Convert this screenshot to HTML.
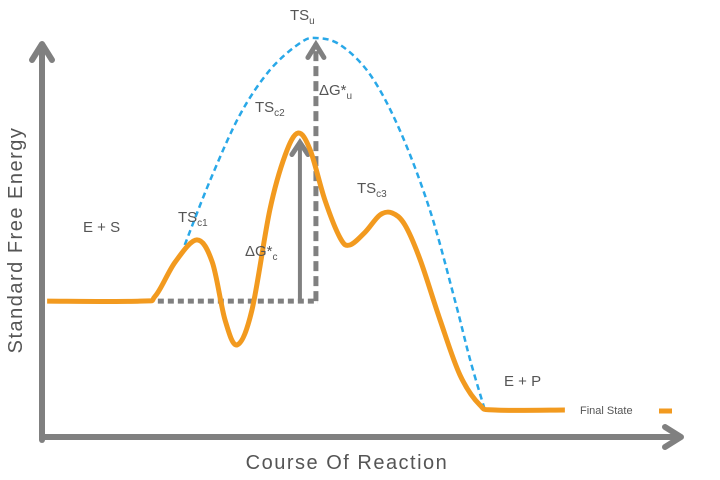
<!DOCTYPE html>
<html><head><meta charset="utf-8"><style>
body{margin:0;background:#fff}
svg{display:block}
text{font-family:"Liberation Sans",sans-serif;fill:#555}
</style></head><body>
<svg id="chart" width="720" height="480" viewBox="0 0 720 480">
<g id="marks"></g>
<g stroke="#808080" stroke-width="6" fill="none" stroke-linecap="round" stroke-linejoin="round">
  <line x1="42" y1="440" x2="42" y2="45"/>
  <polyline points="32,60 42,44 52,60"/>
  <line x1="42" y1="437" x2="680" y2="437"/>
  <polyline points="665,427 681,437 665,447"/>
</g>
<text transform="translate(22,240) rotate(-90)" text-anchor="middle" font-size="20" letter-spacing="1.5">Standard Free Energy</text>
<text x="347" y="469" text-anchor="middle" font-size="20" letter-spacing="1.5">Course Of Reaction</text>
<text x="290" y="20" font-size="15">TS<tspan font-size="10" dy="4">u</tspan></text>
<text x="255" y="112" font-size="15">TS<tspan font-size="10" dy="4">c2</tspan></text>
<text x="319" y="95" font-size="15">ΔG*<tspan font-size="10" dy="4">u</tspan></text>
<text x="178" y="222" font-size="15">TS<tspan font-size="10" dy="4">c1</tspan></text>
<text x="245" y="256" font-size="15">ΔG*<tspan font-size="10" dy="4">c</tspan></text>
<text x="357" y="193" font-size="15">TS<tspan font-size="10" dy="4">c3</tspan></text>
<text x="83" y="232" font-size="15">E + S</text>
<text x="504" y="386" font-size="15">E + P</text>
<text x="580" y="414" font-size="11">Final State</text>
<line x1="659" y1="411" x2="672" y2="411" stroke="#F29A1F" stroke-width="5"/>
</svg>
<script>
// reaction coordinate (0-100) and free energy (arbitrary units)
const catalyzedX = [0.8,15.3,17.7,20.8,24.2,26.6,28.6,30.5,32.8,35.6,38.0,40.0,41.9,44.2,46.6,48.1,50.5,52.8,54.7,56.7,59.1,62.2,65.3,68.4,70.8,81.7];
const catalyzedY = [45.3,45.3,47,58.3,65.7,58.3,39,30.7,42.3,75.7,94,101.3,95.7,79,66.3,64,68.3,74,74.7,70.7,59,39,20.7,10.7,9,9];
const uncatX = [22.3,26.3,30.9,35.6,40.3,42.8,46.6,51.3,55.9,60.6,64.5,66.9,69.2];
const uncatY = [64,85.7,107.3,122.3,131.3,133,130.7,120.7,102.3,75.7,45.7,25.7,9];
const baseEnergy = 45.3;
const tsC2Energy = 99.5;
const tsUEnergy = 132.5;
const dgCx = 40.3, dgUx = 42.8, baseStartX = 18.1;

const sx = v => 42 + v * 6.4;
const sy = v => 437 - v * 3;

function smooth(xs, ys) {
  const p = xs.map((x, i) => [sx(x), sy(ys[i])]);
  let d = `M${p[0][0]},${p[0][1]}`;
  for (let i = 0; i < p.length - 1; i++) {
    const p0 = p[i - 1] || p[i], p1 = p[i], p2 = p[i + 1], p3 = p[i + 2] || p2;
    const c1 = [p1[0] + (p2[0] - p0[0]) / 6, p1[1] + (p2[1] - p0[1]) / 6];
    const c2 = [p2[0] - (p3[0] - p1[0]) / 6, p2[1] - (p3[1] - p1[1]) / 6];
    d += ` C${c1[0]},${c1[1]} ${c2[0]},${c2[1]} ${p2[0]},${p2[1]}`;
  }
  return d;
}
const NS = "http://www.w3.org/2000/svg";
const g = document.getElementById("marks");
function mk(tag, attrs) {
  const e = document.createElementNS(NS, tag);
  for (const k in attrs) e.setAttribute(k, attrs[k]);
  g.appendChild(e);
  return e;
}
const base = mk("line", {x1: sx(baseStartX), y1: sy(baseEnergy), x2: sx(dgUx) + 2, y2: sy(baseEnergy), stroke: "#808080", "stroke-width": 5, "stroke-dasharray": "6 4"});


const dgc = mk("line", {x1: sx(dgCx), y1: sy(baseEnergy), x2: sx(dgCx), y2: sy(tsC2Energy) + 4, stroke: "#808080", "stroke-width": 4});


const dgcH = mk("polyline", {points: `${sx(dgCx)-8},${sy(tsC2Energy)+16} ${sx(dgCx)},${sy(tsC2Energy)+4} ${sx(dgCx)+8},${sy(tsC2Energy)+16}`, stroke: "#808080", "stroke-width": 5, fill: "none", "stroke-linecap": "round"});


const dgu = mk("line", {x1: sx(dgUx), y1: sy(baseEnergy), x2: sx(dgUx), y2: sy(tsUEnergy) + 4, stroke: "#808080", "stroke-width": 5, "stroke-dasharray": "10 5"});


const dguH = mk("polyline", {points: `${sx(dgUx)-8},${sy(tsUEnergy)+18} ${sx(dgUx)},${sy(tsUEnergy)+5} ${sx(dgUx)+8},${sy(tsUEnergy)+18}`, stroke: "#808080", "stroke-width": 5, fill: "none", "stroke-linecap": "round"});


const un = mk("path", {d: smooth(uncatX, uncatY), stroke: "#29A8E8", "stroke-width": 2.5, fill: "none", "stroke-dasharray": "6 4"});


const cat = mk("path", {d: smooth(catalyzedX, catalyzedY), stroke: "#F29A1F", "stroke-width": 5, fill: "none"});


</script>
</body></html>
